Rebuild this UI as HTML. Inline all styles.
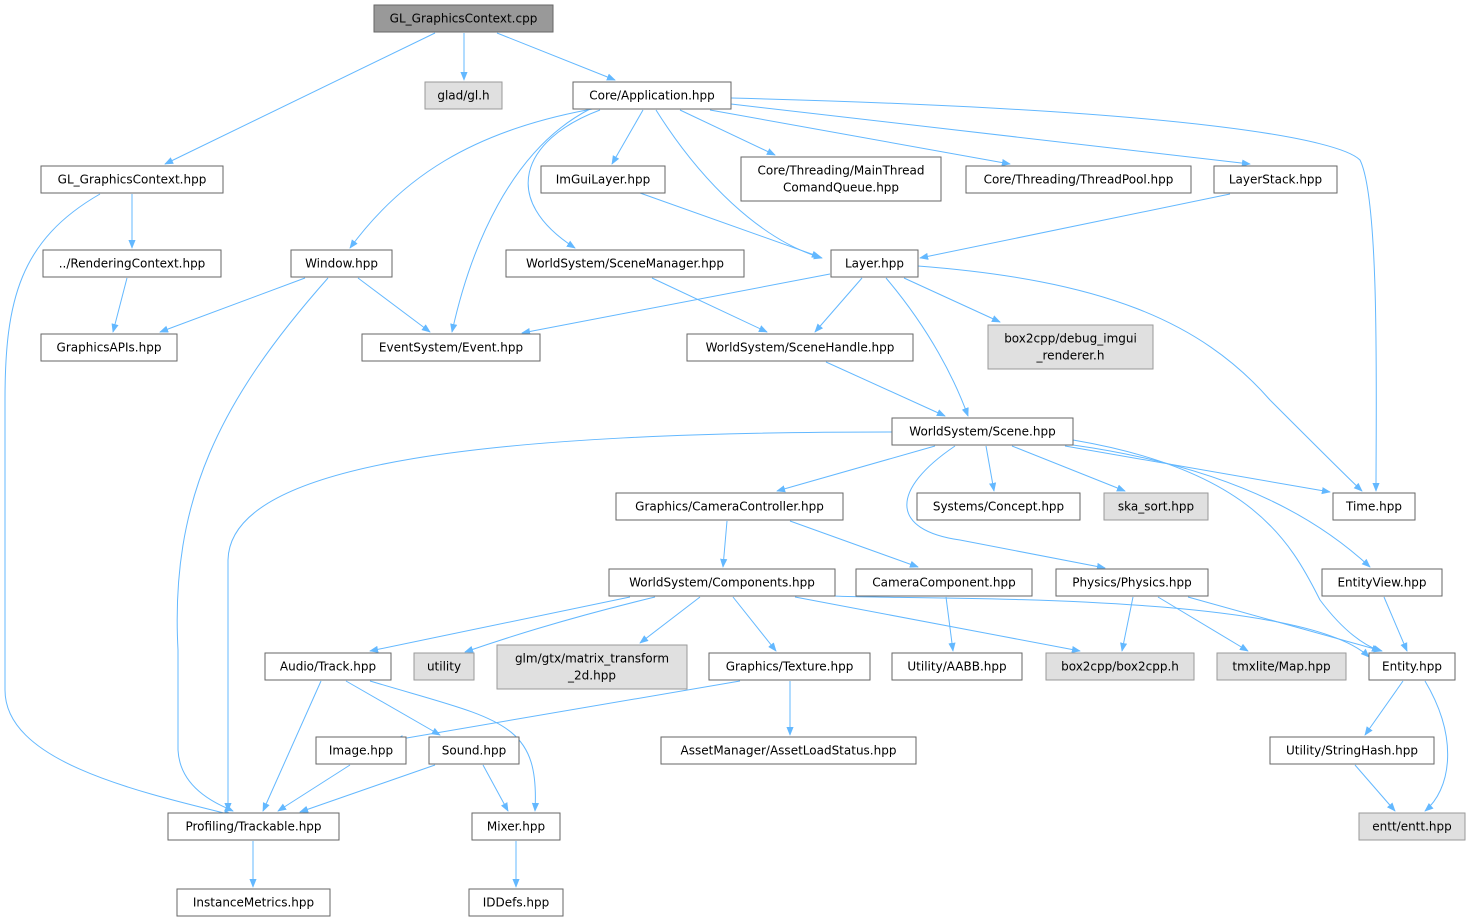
<!DOCTYPE html>
<html><head><meta charset="utf-8"><style>
html,body{margin:0;padding:0;background:#fff;}
svg{display:block;}
text{font-family:"DejaVu Sans","Liberation Sans",sans-serif;font-size:12px;fill:#000;}
.n{fill:#fff;stroke:#666;stroke-width:1;}
.g{fill:#e0e0e0;stroke:#999;stroke-width:1;}
.r{fill:#999;stroke:#666;stroke-width:1;}
.e{fill:none;stroke:#63b8ff;stroke-width:1;marker-end:url(#a);}
</style></head><body>
<svg width="1470" height="922" viewBox="0 0 1470 922" xmlns="http://www.w3.org/2000/svg">
<defs><marker id="a" viewBox="0 0 10 10" refX="9" refY="5" markerWidth="9" markerHeight="9" orient="auto" markerUnits="userSpaceOnUse"><path d="M0,1 L10,5 L0,9 z" fill="#63b8ff"/></marker></defs>
<g>
<path class="e" d="M435,33 L165,164"/>
<path class="e" d="M464,33 L464,80"/>
<path class="e" d="M497,33 L615,80"/>
<path class="e" d="M132,194 L132,248"/>
<path class="e" d="M100,194 C20,240 5,300 5,400 L5,690 C5,760 130,790 232,815"/>
<path class="e" d="M127,278 L113,332"/>
<path class="e" d="M598,108 C470,130 400,180 350,248"/>
<path class="e" d="M590,109 C510,150 470,250 452,332"/>
<path class="e" d="M643,110 L612,164"/>
<path class="e" d="M600,110 C520,140 500,200 575,248"/>
<path class="e" d="M680,110 L775,155"/>
<path class="e" d="M710,110 L1010,164"/>
<path class="e" d="M731,104 L1250,164"/>
<path class="e" d="M656,110 C700,180 760,240 822,258"/>
<path class="e" d="M731,98 C1200,110 1340,140 1360,160 C1380,200 1376,400 1376,491"/>
<path class="e" d="M640,193 L820,257"/>
<path class="e" d="M1230,194 L920,258"/>
<path class="e" d="M305,278 L160,332"/>
<path class="e" d="M358,278 L430,332"/>
<path class="e" d="M328,278 C220,400 170,500 178,650 L178,750 C180,790 220,805 233,811"/>
<path class="e" d="M652,278 L767,332"/>
<path class="e" d="M830,274 L522,333"/>
<path class="e" d="M862,278 L815,332"/>
<path class="e" d="M904,278 L1000,322"/>
<path class="e" d="M886,278 C930,330 955,380 968,416"/>
<path class="e" d="M918,266 C1100,280 1200,320 1270,400 C1320,450 1350,480 1362,491"/>
<path class="e" d="M826,362 L945,416"/>
<path class="e" d="M892,432 C500,432 230,460 228,560 L228,811"/>
<path class="e" d="M935,446 L777,491"/>
<path class="e" d="M986,446 L994,491"/>
<path class="e" d="M1012,446 L1125,491"/>
<path class="e" d="M1065,446 L1330,492"/>
<path class="e" d="M955,446 C890,490 890,530 960,540 L1105,568"/>
<path class="e" d="M1073,440 C1250,470 1290,540 1320,600 Q1350,640 1380,651"/>
<path class="e" d="M1073,445 C1250,470 1330,530 1370,567"/>
<path class="e" d="M727,521 L723,567"/>
<path class="e" d="M790,521 L918,567"/>
<path class="e" d="M630,597 L370,651"/>
<path class="e" d="M655,597 C560,620 500,640 465,652"/>
<path class="e" d="M700,597 L640,643"/>
<path class="e" d="M733,597 L776,651"/>
<path class="e" d="M795,597 L1080,651"/>
<path class="e" d="M835,596 C900,600 1300,590 1369,657"/>
<path class="e" d="M946,597 L953,651"/>
<path class="e" d="M1133,597 L1122,651"/>
<path class="e" d="M1158,597 L1248,651"/>
<path class="e" d="M1188,597 L1382,651"/>
<path class="e" d="M1384,597 L1407,651"/>
<path class="e" d="M321,681 L263,811"/>
<path class="e" d="M346,681 L440,735"/>
<path class="e" d="M370,681 C500,720 540,720 535,811"/>
<path class="e" d="M740,681 L395,740"/>
<path class="e" d="M790,681 L790,735"/>
<path class="e" d="M1403,681 L1365,735"/>
<path class="e" d="M1425,681 C1460,740 1450,790 1425,811"/>
<path class="e" d="M350,765 L278,811"/>
<path class="e" d="M435,765 L300,812"/>
<path class="e" d="M483,765 L508,811"/>
<path class="e" d="M1355,765 L1395,811"/>
<path class="e" d="M253,841 L253,887"/>
<path class="e" d="M516,841 L516,887"/>
</g>
<g text-anchor="middle">
<rect class="r" x="374" y="5" width="179" height="27"/><text x="463.5" y="22.5">GL_GraphicsContext.cpp</text>
<rect class="g" x="425" y="82" width="77" height="27"/><text x="463.5" y="99.5">glad/gl.h</text>
<rect class="n" x="573" y="82" width="158" height="27"/><text x="652" y="99.5">Core/Application.hpp</text>
<rect class="n" x="41" y="166" width="182" height="27"/><text x="132" y="183.5">GL_GraphicsContext.hpp</text>
<rect class="n" x="541" y="166" width="124" height="27"/><text x="603" y="183.5">ImGuiLayer.hpp</text>
<rect class="n" x="741" y="157" width="200" height="44"/><text x="841" y="174.5">Core/Threading/MainThread</text><text x="841" y="191.5">ComandQueue.hpp</text>
<rect class="n" x="966" y="166" width="225" height="27"/><text x="1078.5" y="183.5">Core/Threading/ThreadPool.hpp</text>
<rect class="n" x="1214" y="166" width="123" height="27"/><text x="1275.5" y="183.5">LayerStack.hpp</text>
<rect class="n" x="43" y="250" width="178" height="27"/><text x="132" y="267.5">../RenderingContext.hpp</text>
<rect class="n" x="291" y="250" width="101" height="27"/><text x="341.5" y="267.5">Window.hpp</text>
<rect class="n" x="506" y="250" width="238" height="27"/><text x="625" y="267.5">WorldSystem/SceneManager.hpp</text>
<rect class="n" x="831" y="250" width="87" height="27"/><text x="874.5" y="267.5">Layer.hpp</text>
<rect class="n" x="41" y="334" width="136" height="27"/><text x="109" y="351.5">GraphicsAPIs.hpp</text>
<rect class="n" x="362" y="334" width="178" height="27"/><text x="451" y="351.5">EventSystem/Event.hpp</text>
<rect class="n" x="687" y="334" width="226" height="27"/><text x="800" y="351.5">WorldSystem/SceneHandle.hpp</text>
<rect class="g" x="988" y="325" width="165" height="44"/><text x="1070.5" y="342.5">box2cpp/debug_imgui</text><text x="1070.5" y="359.5">_renderer.h</text>
<rect class="n" x="892" y="418" width="181" height="27"/><text x="982.5" y="435.5">WorldSystem/Scene.hpp</text>
<rect class="n" x="616" y="493" width="227" height="27"/><text x="729.5" y="510.5">Graphics/CameraController.hpp</text>
<rect class="n" x="917" y="493" width="163" height="27"/><text x="998.5" y="510.5">Systems/Concept.hpp</text>
<rect class="g" x="1104" y="493" width="104" height="27"/><text x="1156" y="510.5">ska_sort.hpp</text>
<rect class="n" x="1333" y="493" width="82" height="27"/><text x="1374" y="510.5">Time.hpp</text>
<rect class="n" x="609" y="569" width="226" height="27"/><text x="722" y="586.5">WorldSystem/Components.hpp</text>
<rect class="n" x="856" y="569" width="176" height="27"/><text x="944" y="586.5">CameraComponent.hpp</text>
<rect class="n" x="1056" y="569" width="152" height="27"/><text x="1132" y="586.5">Physics/Physics.hpp</text>
<rect class="n" x="1322" y="569" width="120" height="27"/><text x="1382" y="586.5">EntityView.hpp</text>
<rect class="n" x="265" y="653" width="126" height="27"/><text x="328" y="670.5">Audio/Track.hpp</text>
<rect class="g" x="414" y="653" width="60" height="27"/><text x="444" y="670.5">utility</text>
<rect class="g" x="497" y="645" width="190" height="44"/><text x="592" y="662.5">glm/gtx/matrix_transform</text><text x="592" y="679.5">_2d.hpp</text>
<rect class="n" x="709" y="653" width="161" height="27"/><text x="789.5" y="670.5">Graphics/Texture.hpp</text>
<rect class="n" x="892" y="653" width="130" height="27"/><text x="957" y="670.5">Utility/AABB.hpp</text>
<rect class="g" x="1046" y="653" width="148" height="27"/><text x="1120" y="670.5">box2cpp/box2cpp.h</text>
<rect class="g" x="1217" y="653" width="129" height="27"/><text x="1281.5" y="670.5">tmxlite/Map.hpp</text>
<rect class="n" x="1369" y="653" width="86" height="27"/><text x="1412" y="670.5">Entity.hpp</text>
<rect class="n" x="316" y="737" width="90" height="27"/><text x="361" y="754.5">Image.hpp</text>
<rect class="n" x="429" y="737" width="90" height="27"/><text x="474" y="754.5">Sound.hpp</text>
<rect class="n" x="661" y="737" width="255" height="27"/><text x="788.5" y="754.5">AssetManager/AssetLoadStatus.hpp</text>
<rect class="n" x="1270" y="737" width="164" height="27"/><text x="1352" y="754.5">Utility/StringHash.hpp</text>
<rect class="n" x="168" y="813" width="171" height="27"/><text x="253.5" y="830.5">Profiling/Trackable.hpp</text>
<rect class="n" x="472" y="813" width="88" height="27"/><text x="516" y="830.5">Mixer.hpp</text>
<rect class="g" x="1359" y="813" width="106" height="27"/><text x="1412" y="830.5">entt/entt.hpp</text>
<rect class="n" x="177" y="889" width="153" height="27"/><text x="253.5" y="906.5">InstanceMetrics.hpp</text>
<rect class="n" x="469" y="889" width="94" height="27"/><text x="516" y="906.5">IDDefs.hpp</text>
</g>
</svg>
</body></html>
